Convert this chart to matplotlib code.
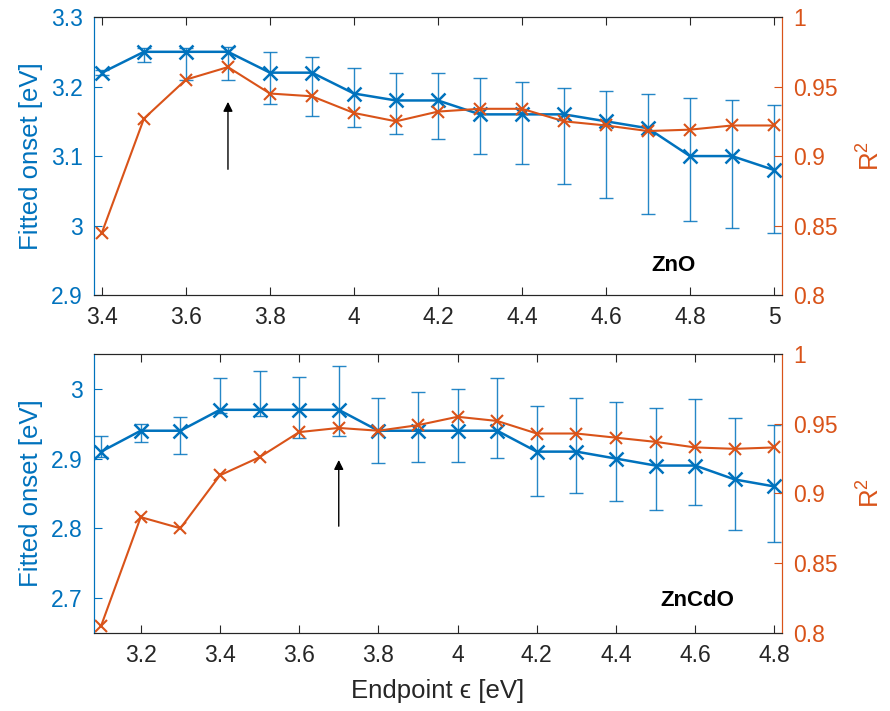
import numpy as np
from matplotlib import pyplot as plt
from matplotlib.ticker import FuncFormatter

plt.rcParams['font.family'] = ['Liberation Sans', 'DejaVu Sans']
plt.rcParams['mathtext.fontset'] = 'custom'
plt.rcParams['mathtext.rm'] = 'Liberation Sans'
plt.rcParams['mathtext.it'] = 'Liberation Sans:italic'

BLUE = '#0072BD'
ORANGE = '#D95319'
GRAY = '#262626'

# ZnO panel
x_zno = [3.4, 3.5, 3.6, 3.7, 3.8, 3.9, 4.0, 4.1, 4.2, 4.3, 4.4, 4.5, 4.6, 4.7, 4.8, 4.9, 5.0]
onset_zno = [3.22, 3.25, 3.25, 3.25, 3.22, 3.22, 3.19, 3.18, 3.18, 3.16, 3.16, 3.16, 3.15, 3.14, 3.10, 3.10, 3.08]
hi_zno = [3.224, 3.255, 3.255, 3.257, 3.250, 3.243, 3.226, 3.220, 3.220, 3.213, 3.207, 3.198, 3.194, 3.189, 3.184, 3.181, 3.174]
lo_zno = [3.216, 3.235, 3.209, 3.209, 3.175, 3.158, 3.142, 3.132, 3.124, 3.103, 3.088, 3.060, 3.039, 3.017, 3.006, 2.997, 2.989]
r2_zno = [0.845, 0.927, 0.955, 0.964, 0.945, 0.943, 0.931, 0.925, 0.932, 0.934, 0.934, 0.925, 0.922, 0.918, 0.919, 0.922, 0.922]

# ZnCdO panel
x_zncdo = [3.1, 3.2, 3.3, 3.4, 3.5, 3.6, 3.7, 3.8, 3.9, 4.0, 4.1, 4.2, 4.3, 4.4, 4.5, 4.6, 4.7, 4.8]
onset_zncdo = [2.91, 2.94, 2.94, 2.97, 2.97, 2.97, 2.97, 2.94, 2.94, 2.94, 2.94, 2.91, 2.91, 2.90, 2.89, 2.89, 2.87, 2.86]
hi_zncdo = [2.933, 2.950, 2.959, 3.016, 3.025, 3.017, 3.033, 2.987, 2.995, 3.000, 3.015, 2.976, 2.987, 2.981, 2.972, 2.986, 2.958, 2.948]
lo_zncdo = [2.903, 2.924, 2.907, 2.965, 2.961, 2.930, 2.932, 2.893, 2.895, 2.895, 2.901, 2.847, 2.851, 2.839, 2.826, 2.833, 2.797, 2.780]
r2_zncdo = [0.805, 0.883, 0.875, 0.913, 0.926, 0.944, 0.947, 0.945, 0.949, 0.955, 0.952, 0.943, 0.943, 0.940, 0.937, 0.933, 0.932, 0.933]

fmt = FuncFormatter(lambda v, p: '%g' % round(v, 3))


def panel(rect, x, onset, lo, hi, r2, xlim, xticks, ylim, yticks, label, label_xy, arrow):
    ax = fig.add_axes(rect)
    x = np.array(x)
    onset = np.array(onset)
    yerr = [onset - np.array(lo), np.array(hi) - onset]
    ax.errorbar(x, onset, yerr=yerr, fmt='none', ecolor=BLUE, elinewidth=1.0,
                capsize=5, capthick=1.0, alpha=0.85)
    ax.plot(x, onset, '-x', color=BLUE, lw=1.8, ms=10, mew=1.8)
    ax.set_xlim(*xlim)
    ax.set_ylim(*ylim)
    ax.set_xticks(xticks)
    ax.set_yticks(yticks)
    ax.xaxis.set_major_formatter(fmt)
    ax.yaxis.set_major_formatter(fmt)
    ax.tick_params(axis='x', direction='in', top=True, length=6, width=0.8,
                   colors=GRAY, labelsize=16.5, pad=8)
    ax.tick_params(axis='y', direction='in', right=True, length=6, width=0.8,
                   colors=BLUE, labelsize=16.5, pad=8)
    ax.set_ylabel('Fitted onset [eV]', color=BLUE, fontsize=18.5)
    ax.yaxis.set_label_coords(-0.074, 0.5)
    ax.annotate('', xy=(3.7, arrow[1]), xytext=(3.7, arrow[0]),
                arrowprops=dict(arrowstyle='-|>', color='k', lw=1.0, mutation_scale=14))
    ax.text(label_xy[0], label_xy[1], label, fontsize=16, fontweight='bold',
            ha='center', va='center')

    ax2 = ax.twinx()
    ax2.plot(x, r2, '-x', color=ORANGE, lw=1.5, ms=9, mew=1.5)
    ax2.set_ylim(0.8, 1)
    ax2.set_yticks([0.8, 0.85, 0.9, 0.95, 1])
    ax2.yaxis.set_major_formatter(fmt)
    ax2.tick_params(axis='y', direction='in', length=6, width=0.8,
                    colors=ORANGE, labelsize=16.5, pad=8)
    ax2.set_ylabel('R$^2$', color=ORANGE, fontsize=18.5)
    ax2.yaxis.set_label_coords(1.11, 0.5)
    for a in (ax, ax2):
        a.spines['left'].set_color(BLUE)
        a.spines['right'].set_color(ORANGE)
        a.spines['top'].set_color(GRAY)
        a.spines['bottom'].set_color(GRAY)
        for s in a.spines.values():
            s.set_linewidth(0.8)
    return ax


fig = plt.figure(figsize=(8.9, 7.11), dpi=100)

panel([0.1056, 0.585, 0.773, 0.391], x_zno, onset_zno, lo_zno, hi_zno, r2_zno,
      (3.381, 5.019), np.arange(3.4, 5.01, 0.2), (2.9, 3.3), [2.9, 3.0, 3.1, 3.2, 3.3],
      'ZnO', (4.76, 2.943), (3.077, 3.182))

ax_b = panel([0.1056, 0.110, 0.773, 0.392], x_zncdo, onset_zncdo, lo_zncdo, hi_zncdo, r2_zncdo,
             (3.082, 4.819), np.arange(3.2, 4.81, 0.2), (2.65, 3.05), [2.7, 2.8, 2.9, 3.0],
             'ZnCdO', (4.605, 2.697), (2.799, 2.902))
ax_b.set_xlabel('Endpoint \u03f5 [eV]', fontsize=18.5, color=GRAY, labelpad=9)

fig.savefig('out.png', dpi=100)
